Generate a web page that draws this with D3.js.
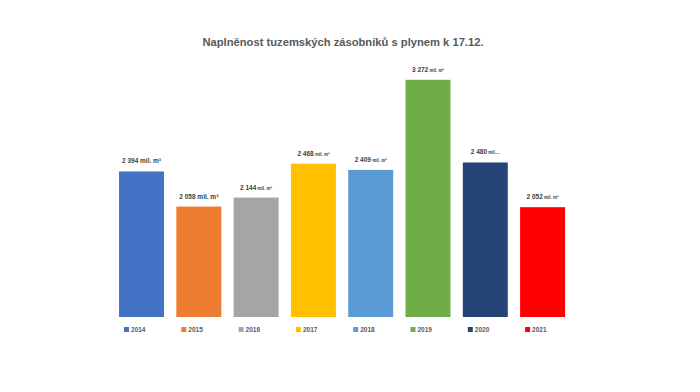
<!DOCTYPE html>
<html><head><meta charset="utf-8">
<script src="https://cdn.jsdelivr.net/npm/d3@7"></script>
<style>body{margin:0;background:#fff;}svg{display:block;}</style>
</head><body>
<script>
const years = ["2014","2015","2016","2017","2018","2019","2020","2021"];
const values = [2394, 2058, 2144, 2468, 2409, 3272, 2480, 2052];
const labels = ["2 394 mil. m³","2 058 mil. m³","2 144 mil. m³","2 468 mil. m³","2 409 mil. m³","3 272 mil. m³","2 480 mil....","2 052 mil. m³"];
const bigUnit = [true,true,false,false,false,false,false,false];
const colors = ["#4472C4","#ED7D31","#A5A5A5","#FFC000","#5B9BD5","#70AD47","#264478","#FF0000"];

const W=700,H=392;
const svg=d3.select("body").append("svg").attr("width",W).attr("height",H);
const font="'Liberation Sans', Arial, sans-serif";

const x=d3.scaleBand().domain(years).range([113.3,570.8]).paddingInner(0.215).paddingOuter(0.1);
const y=d3.scaleLinear().domain([1000,3500]).range([317,56]);

svg.append("text").attr("x",343).attr("y",46).attr("text-anchor","middle")
  .attr("font-family",font).attr("font-weight","bold").attr("font-size",11.2)
  .attr("fill","#595959").text("Naplněnost tuzemských zásobníků s plynem k 17.12.");

svg.selectAll("rect.bar").data(years).join("rect").attr("class","bar")
  .attr("x",d=>x(d)).attr("width",x.bandwidth())
  .attr("y",(d,i)=>y(values[i])).attr("height",(d,i)=>y(1000)-y(values[i]))
  .attr("fill",(d,i)=>colors[i]);

const lab=svg.selectAll("text.lab").data(years).join("text").attr("class","lab")
  .attr("x",d=>x(d)+x.bandwidth()/2).attr("y",(d,i)=>y(values[i])-8)
  .attr("text-anchor","middle").attr("font-family",font).attr("font-weight","bold")
  .attr("fill","#404040");
lab.each(function(d,i){
  const t=d3.select(this);
  const parts=labels[i].split(" mil");
  t.append("tspan").attr("font-size",6.5).text(parts[0]);
  t.append("tspan").attr("font-size",bigUnit[i]?6.5:4.5).text(" mil"+parts[1]);
});

const leg=svg.selectAll("g.leg").data(years).join("g").attr("class","leg")
  .attr("transform",d=>`translate(${x(d)+5},330)`);
leg.append("rect").attr("x",0).attr("y",-3).attr("width",5).attr("height",5)
  .attr("fill",(d,i)=>colors[i]);
leg.append("text").attr("x",7).attr("y",2).attr("font-family",font).attr("font-weight","bold")
  .attr("font-size",6.5).attr("fill","#595959").text(d=>d);
</script>
</body></html>
